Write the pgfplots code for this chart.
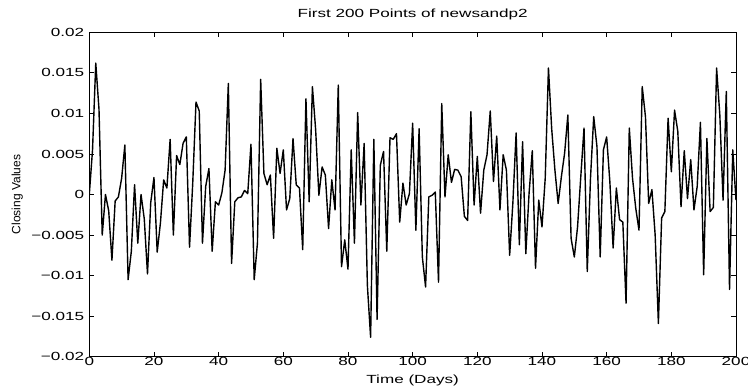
\documentclass[border=0pt]{standalone}
\usepackage{fontspec}
\setmainfont[FakeStretch=1.45]{Liberation Sans}
\newfontfamily\ylfont{Liberation Sans}
\usepackage{pgfplots}
\usepackage{pgfplotstable}
\pgfplotsset{compat=1.18}
\pgfplotstableread{
d v
0 0
1 5.5
2 16.2
3 10.5
4 -5.0
5 0.0
6 -2.0
7 -8.1
8 -0.8
9 -0.3
10 2.0
11 6.1
12 -10.5
13 -7.0
14 1.2
15 -6.0
16 0.0
17 -3.0
18 -9.8
19 -1.0
20 2.1
21 -7.1
22 -3.5
23 1.8
24 0.8
25 6.8
26 -5.0
27 4.8
28 3.7
29 6.3
30 7.1
31 -6.5
32 1.5
33 11.4
34 10.3
35 -6.0
36 1.0
37 3.2
38 -7.0
39 -0.9
40 -1.3
41 0.2
42 3.0
43 13.7
44 -8.5
45 -0.9
46 -0.4
47 -0.3
48 0.5
49 0.1
50 6.2
51 -10.5
52 -6.0
53 14.2
54 2.6
55 1.2
56 2.4
57 -5.4
58 5.7
59 2.6
60 5.5
61 -1.9
62 -0.5
63 6.9
64 1.2
65 0.8
66 -6.8
67 11.8
68 -0.9
69 13.3
70 8.0
71 -0.1
72 3.4
73 2.4
74 -4.2
75 1.8
76 -1.9
77 13.5
78 -8.9
79 -5.6
80 -9.2
81 5.5
82 -6.0
83 10.1
84 -1.3
85 6.3
86 -11.2
87 -17.6
88 6.8
89 -15.4
90 3.6
91 5.3
92 -7.0
93 7.0
94 6.8
95 7.5
96 -3.4
97 1.4
98 -1.3
99 0.1
100 8.8
101 -4.4
102 8.1
103 -7.7
104 -11.4
105 -0.3
106 -0.1
107 0.3
108 -10.8
109 11.2
110 -0.3
111 4.9
112 1.5
113 3.1
114 3.0
115 2.2
116 -2.7
117 -3.2
118 10.2
119 -1.3
120 4.7
121 -2.3
122 3.0
123 4.9
124 10.3
125 1.6
126 7.2
127 -1.9
128 4.9
129 3.0
130 -7.5
131 -1.0
132 7.6
133 -6.2
134 6.5
135 -7.3
136 0.1
137 5.4
138 -9.1
139 -0.7
140 -4.0
141 2.0
142 15.6
143 8.1
144 3.0
145 -1.1
146 2.2
147 5.1
148 9.8
149 -5.4
150 -7.7
151 -4.0
152 2.2
153 8.2
154 -9.5
155 2.0
156 9.6
157 5.9
158 -7.7
159 5.5
160 7.1
161 1.5
162 -6.6
163 0.8
164 -3.1
165 -3.4
166 -13.4
167 8.2
168 2.0
169 -1.7
170 -4.4
171 13.3
172 9.6
173 -1.1
174 0.6
175 -5.0
176 -15.9
177 -2.9
178 -2.1
179 9.4
180 2.8
181 10.4
182 7.8
183 -1.5
184 5.4
185 -0.5
186 4.3
187 -1.9
188 1.0
189 8.9
190 -9.9
191 6.9
192 -2.1
193 -1.6
194 15.6
195 9.8
196 -0.7
197 12.7
198 -11.7
199 5.5
200 -0.7
}\datatable
\begin{document}
\begin{tikzpicture}
\path[use as bounding box] (-89.3pt,-29.3pt) rectangle (658.7pt,356.7pt);
\begin{axis}[
  at={(0pt,0pt)}, anchor=south west,
  scale only axis,
  width=646.7pt, height=324.4pt,
  xmin=0, xmax=200, ymin=-0.02, ymax=0.02,
  xtick={0,20,...,200},
  ytick={-0.02,-0.015,-0.01,-0.005,0,0.005,0.01,0.015,0.02},
  yticklabels={−0.02,−0.015,−0.01,−0.005,0,0.005,0.01,0.015,0.02},
  xticklabels={0,20,40,60,80,100,120,140,160,180,200},
  scaled y ticks=false,
  tick align=inside,
  major tick length=5pt,
  axis line style={line width=1pt},
  every tick/.style={line width=0.9pt, black},
  tick label style={font=\fontsize{11.8}{12}\selectfont},
  xticklabel style={anchor=north, inner sep=0pt, yshift=-0.5pt},
  yticklabel style={anchor=east, inner sep=0pt, xshift=-5pt},
  title={First 200 Points of newsandp2},
  title style={at={(axis description cs:0.5,1)}, anchor=base, yshift=9.3pt, inner sep=0pt, font=\fontsize{11.8}{12}\selectfont},
  xlabel={Time (Days)},
  xlabel style={at={(axis description cs:0.5,0)}, anchor=base, yshift=-27pt, inner sep=0pt, font=\fontsize{11.8}{12}\selectfont},
  ylabel={Closing Values},
  ylabel style={at={(axis description cs:-0.1113,0.5)}, anchor=center, inner sep=0pt, font=\ylfont\fontsize{12}{12}\selectfont},
]
\addplot[black, line width=1.4pt, line join=round, mark=none] table[x=d, y expr=\thisrow{v}/1000] {\datatable};
\end{axis}
\end{tikzpicture}
\end{document}
